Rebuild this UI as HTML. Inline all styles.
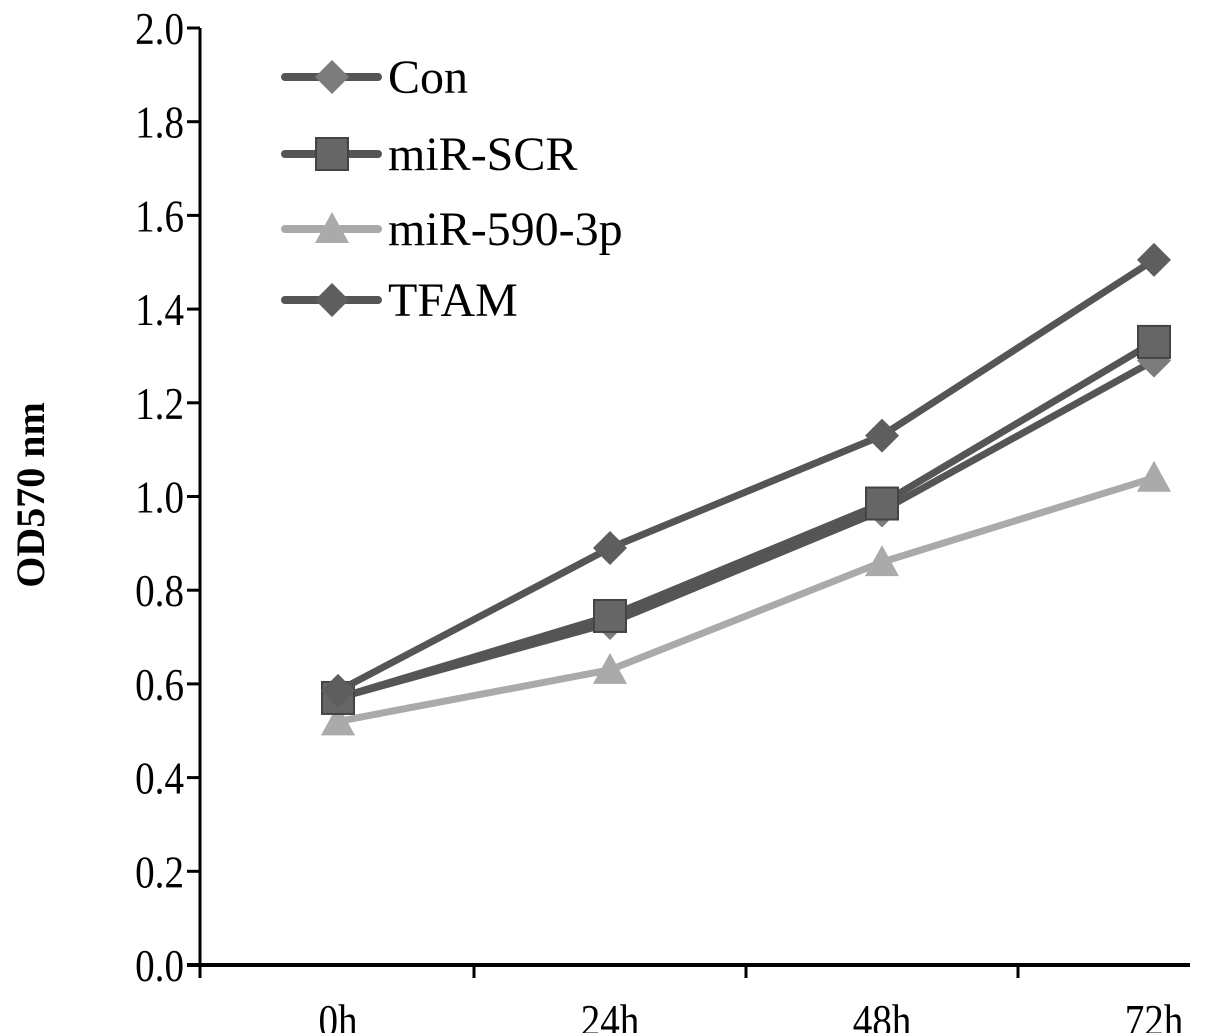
<!DOCTYPE html>
<html><head><meta charset="utf-8"><style>
body{margin:0;background:#fff}
svg{display:block;font-family:"Liberation Serif",serif}
</style></head><body>
<svg id="chart" width="1205" height="1033" viewBox="0 0 1205 1033">
<g id="axes"></g><g id="series"></g><g id="legend"></g>
<text transform="translate(44,495) rotate(-90)" text-anchor="middle" font-size="40" font-weight="bold">OD570 nm</text>
</svg>
<script>
const categories=["0h","24h","48h","72h"];
const yTicks=[0,0.2,0.4,0.6,0.8,1.0,1.2,1.4,1.6,1.8,2.0];
const seriesNames=["Con","miR-SCR","miR-590-3p","TFAM"];
const conVals=[0.57,0.73,0.97,1.29];
const scrVals=[0.57,0.745,0.985,1.33];
const mirVals=[0.52,0.63,0.86,1.04];
const tfamVals=[0.585,0.89,1.13,1.505];
const NS="http://www.w3.org/2000/svg";
const x0=200,x1=1190,y0=965,yTop=28;
const catX=i=>338+i*272;
const yS=v=>y0-(v/2)*(y0-yTop);
function mk(t,a,p){const e=document.createElementNS(NS,t);for(const k in a)e.setAttribute(k,a[k]);p.appendChild(e);return e;}
const ax=document.getElementById('axes');
let l=mk('line',{x1:x0,y1:yTop,x2:x0,y2:y0+13,stroke:'#000','stroke-width':3},ax);


l=mk('line',{x1:x0-13,y1:y0,x2:x1,y2:y0,stroke:'#000','stroke-width':4},ax);


yTicks.forEach(v=>{
 mk('line',{x1:x0-13,y1:yS(v),x2:x0,y2:yS(v),stroke:'#000','stroke-width':3},ax);
 const t=mk('text',{transform:`translate(${x0-16},${yS(v)+16}) scale(0.85,1)`,'text-anchor':'end','font-size':46},ax);
 t.textContent=v.toFixed(1);
 
 
});
for(let i=0;i<3;i++){const xx=(catX(i)+catX(i+1))/2;mk('line',{x1:xx,y1:y0,x2:xx,y2:y0+13,stroke:'#000','stroke-width':3},ax);}
categories.forEach((c,i)=>{
 const t=mk('text',{transform:`translate(${catX(i)},1036) scale(0.85,1)`,'text-anchor':'middle','font-size':46},ax);
 t.textContent=c;
 
 
});
const styles=[
 {vals:conVals,line:'#555',fill:'#7c7c7c',m:'diamond'},
 {vals:scrVals,line:'#555',fill:'#666',m:'square'},
 {vals:mirVals,line:'#aaa',fill:'#aaa',m:'triangle'},
 {vals:tfamVals,line:'#555',fill:'#5e5e5e',m:'diamond'}];
function marker(g,type,x,y,fill){
 let e;
 if(type==='diamond')e=mk('polygon',{points:`${x},${y-17} ${x+17},${y} ${x},${y+17} ${x-17},${y}`,fill:fill},g);
 else if(type==='square')e=mk('rect',{x:x-16,y:y-16,width:32,height:32,fill:fill,stroke:'#444','stroke-width':2},g);
 else e=mk('polygon',{points:`${x},${y-17} ${x+17},${y+14} ${x-17},${y+14}`,fill:fill},g);
 return e;
}
const sg=document.getElementById('series');
const order=[2,0,1,3];
order.forEach(si=>{
 const s=styles[si];
 const g=mk('g',{},sg);
 
 
 mk('polyline',{points:s.vals.map((v,i)=>catX(i)+','+yS(v)).join(' '),fill:'none',stroke:s.line,'stroke-width':7,'stroke-linejoin':'round'},g);
 s.vals.forEach((v,i)=>{const m=marker(g,s.m,catX(i),yS(v),s.fill);
  
  });
});
const lg=document.getElementById('legend');
const ly=[77,154,229,300];
styles.forEach((s,i)=>{
 const g=mk('g',{},lg);
 
 
 mk('line',{x1:285,y1:ly[i],x2:378,y2:ly[i],stroke:s.line,'stroke-width':8,'stroke-linecap':'round'},g);
 marker(g,s.m,332,ly[i],s.fill);
 const t=mk('text',{x:388,y:ly[i]+16,'font-size':48},g);
 t.textContent=seriesNames[i];
});
</script>
</body></html>
